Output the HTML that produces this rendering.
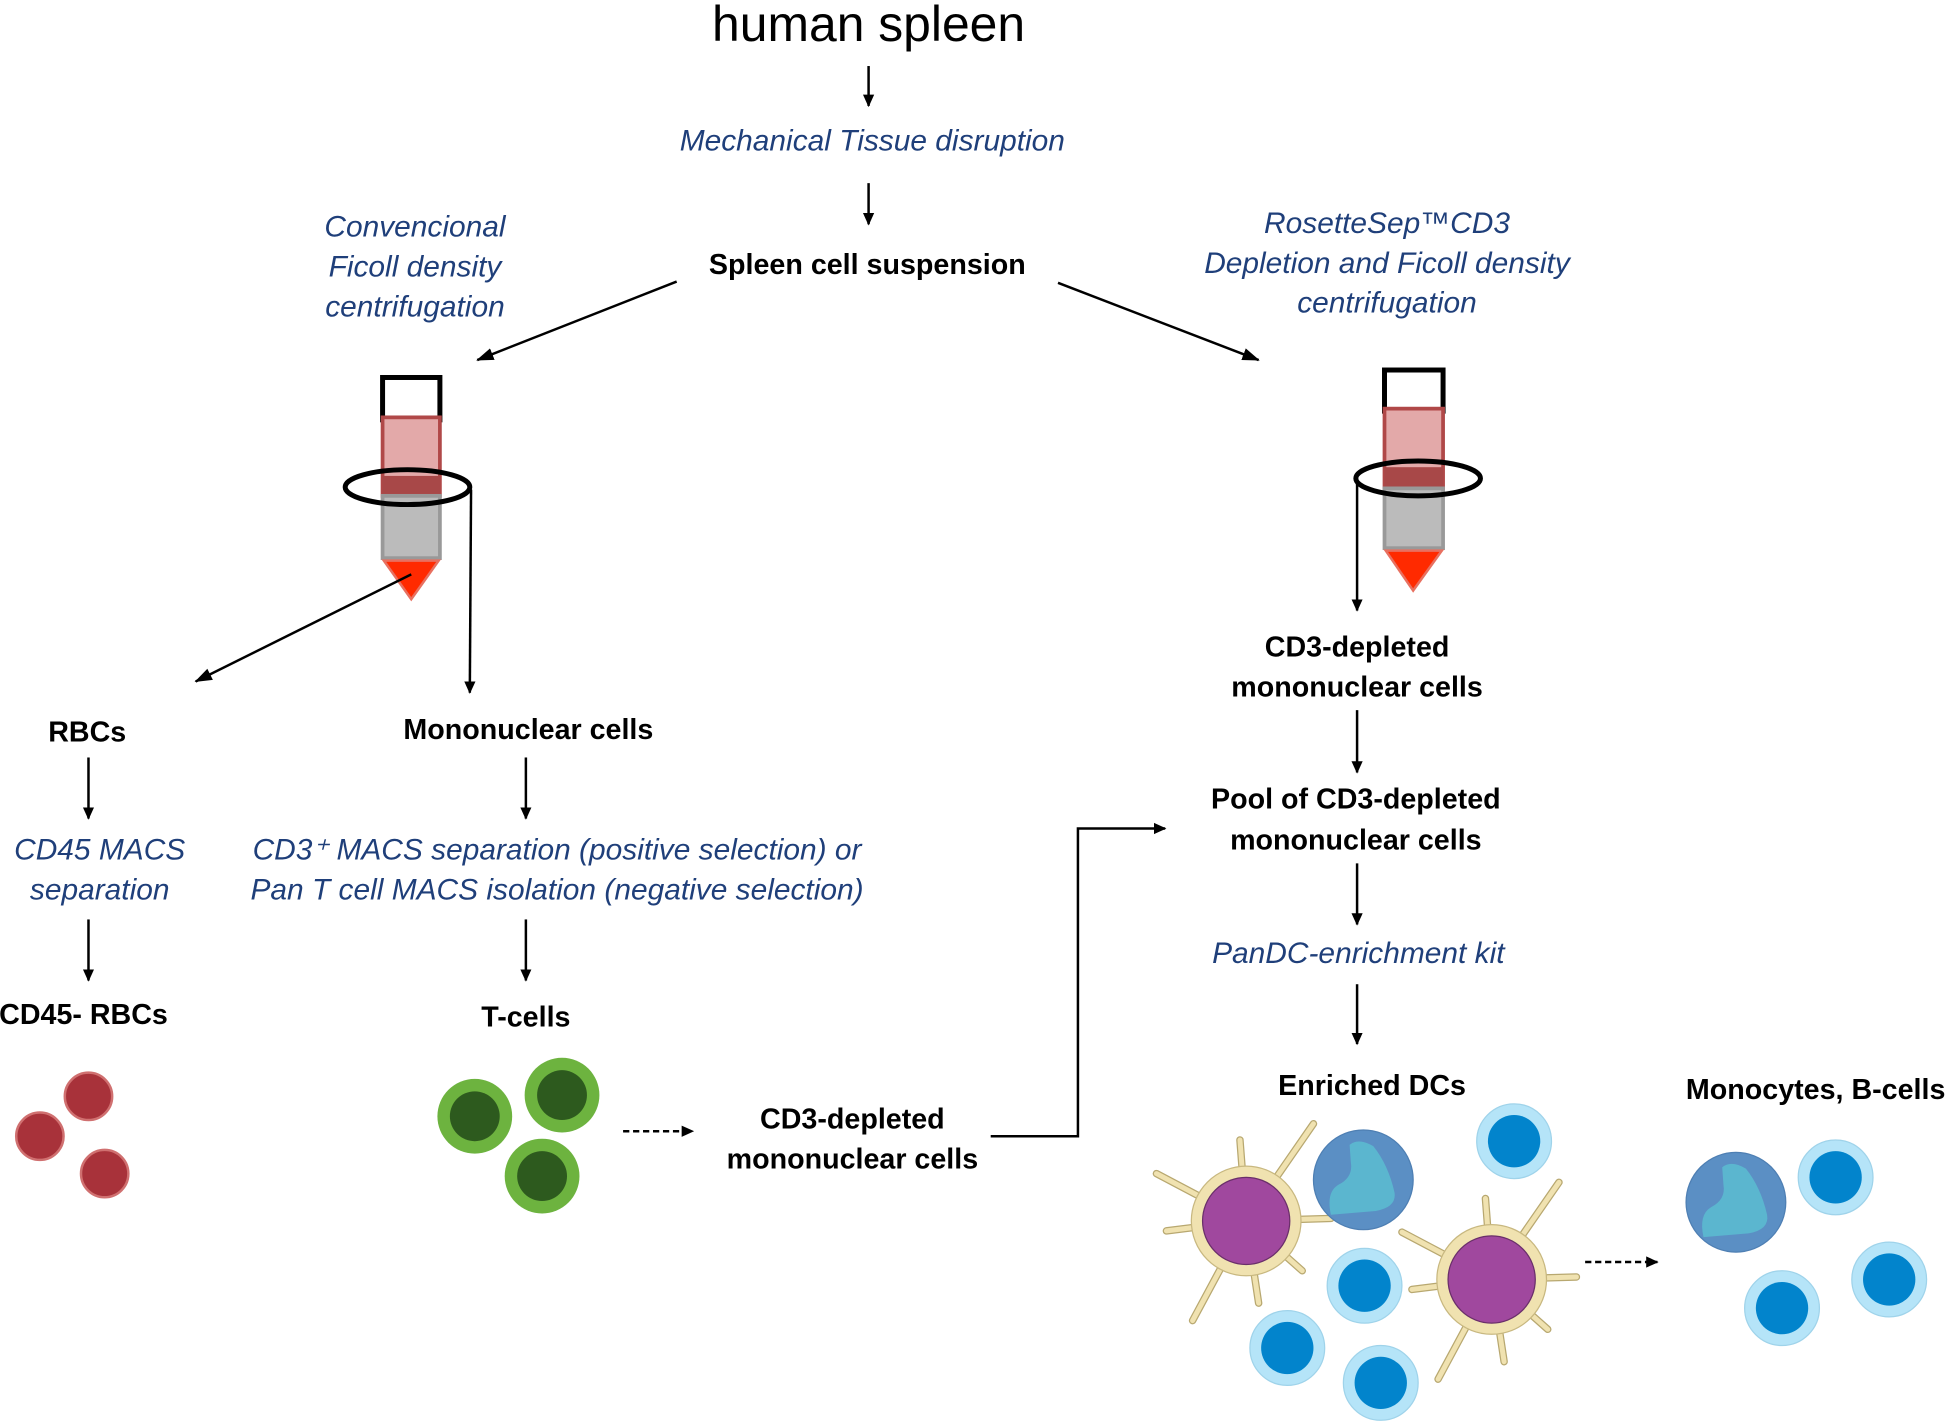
<!DOCTYPE html>
<html><head><meta charset="utf-8"><style>html,body{margin:0;padding:0;background:#fff}svg{display:block}</style></head>
<body>
<svg width="1954" height="1424" viewBox="0 0 1568 1143" preserveAspectRatio="none" xmlns="http://www.w3.org/2000/svg">
<defs>
<marker id="ah" markerWidth="10" markerHeight="10" refX="9" refY="5" orient="auto" markerUnits="userSpaceOnUse"><path d="M0,0.5 L10,5 L0,9.5 Z" fill="#000"/></marker>
<marker id="ah2" markerWidth="14" markerHeight="12" refX="13" refY="6" orient="auto" markerUnits="userSpaceOnUse"><path d="M0,1 L14,6 L0,11 Z" fill="#000"/></marker>
<g id="dc">
 <g stroke="#b8a870" stroke-width="6" stroke-linecap="round"><line x1="0" y1="0" x2="-72" y2="-38"/><line x1="0" y1="0" x2="-5" y2="-65"/><line x1="0" y1="0" x2="54" y2="-78"/><line x1="0" y1="0" x2="-64" y2="8"/><line x1="0" y1="0" x2="68" y2="-2"/><line x1="0" y1="0" x2="-43" y2="80"/><line x1="0" y1="0" x2="10" y2="66"/><line x1="0" y1="0" x2="45" y2="40"/></g>
 <g stroke="#f0e2b0" stroke-width="4" stroke-linecap="round"><line x1="0" y1="0" x2="-72" y2="-38"/><line x1="0" y1="0" x2="-5" y2="-65"/><line x1="0" y1="0" x2="54" y2="-78"/><line x1="0" y1="0" x2="-64" y2="8"/><line x1="0" y1="0" x2="68" y2="-2"/><line x1="0" y1="0" x2="-43" y2="80"/><line x1="0" y1="0" x2="10" y2="66"/><line x1="0" y1="0" x2="45" y2="40"/></g>
 <circle r="44" fill="#f0e2b0" stroke="#c8b880" stroke-width="1"/>
 <circle r="35" fill="#a0489e" stroke="#6a2f6a" stroke-width="1"/>
</g>
<g id="sc"><circle r="30" fill="#b5e4f8" stroke="#9fd3ea"/><circle r="21" fill="#0284cc"/></g>
<g id="mono"><circle r="40" fill="#5b8fc4" stroke="#4e7fb3"/><path d="M-11,-28 Q-4,-34 8,-27 Q20,-12 25,10 Q27,22 10,25 L-26,28 Q-30,10 -20,4 Q-8,-2 -10,-14 Z" fill="#5bb6cf"/></g>
<g id="tc"><circle r="30" fill="#6db33f"/><circle r="20" fill="#2d5a1e"/></g>
<g id="rbc"><circle r="19" fill="#a8323a" stroke="#d07070" stroke-width="2"/></g>
</defs>

<g font-family="Liberation Sans, sans-serif" text-anchor="middle">
<text x="697" y="33" font-size="40">human spleen</text>
<g fill="#1f3f7a" font-style="italic" font-size="24">
<text x="700" y="121">Mechanical Tissue disruption</text>
<text x="333" y="190">Convencional</text><text x="333" y="222">Ficoll density</text><text x="333" y="254">centrifugation</text>
<text x="1113" y="187">RosetteSep™CD3</text><text x="1113" y="219">Depletion and Ficoll density</text><text x="1113" y="251">centrifugation</text>
<text x="80" y="690">CD45 MACS</text><text x="80" y="722">separation</text>
<text x="447" y="690">CD3⁺ MACS separation (positive selection) or</text><text x="447" y="722">Pan T cell MACS isolation (negative selection)</text>
<text x="1090" y="773">PanDC-enrichment kit</text>
</g>
<g font-weight="bold" font-size="23">
<text x="696" y="220">Spleen cell suspension</text>
<text x="1089" y="527">CD3-depleted</text><text x="1089" y="559">mononuclear cells</text>
<text x="1088" y="649">Pool of CD3-depleted</text><text x="1088" y="682">mononuclear cells</text>
<text x="1101" y="879">Enriched DCs</text>
<text x="1457" y="882">Monocytes, B-cells</text>
<text x="70" y="595">RBCs</text><text x="424" y="593">Mononuclear cells</text>
<text x="67" y="822">CD45- RBCs</text><text x="422" y="824">T-cells</text>
<text x="684" y="906">CD3-depleted</text><text x="684" y="938">mononuclear cells</text>
</g>
</g>

<g stroke="#000" stroke-width="2" fill="none">
<line x1="697" y1="53" x2="697" y2="85" marker-end="url(#ah)"/>
<line x1="697" y1="147" x2="697" y2="180" marker-end="url(#ah)"/>
<line x1="543" y1="226" x2="383" y2="289" marker-end="url(#ah2)"/>
<line x1="849" y1="227" x2="1010" y2="289" marker-end="url(#ah2)"/>
<line x1="71" y1="608" x2="71" y2="657" marker-end="url(#ah)"/>
<line x1="71" y1="738" x2="71" y2="787" marker-end="url(#ah)"/>
<line x1="422" y1="608" x2="422" y2="657" marker-end="url(#ah)"/>
<line x1="422" y1="738" x2="422" y2="787" marker-end="url(#ah)"/>
<line x1="1089" y1="570" x2="1089" y2="620" marker-end="url(#ah)"/>
<line x1="1089" y1="693" x2="1089" y2="742" marker-end="url(#ah)"/>
<line x1="1089" y1="790" x2="1089" y2="838" marker-end="url(#ah)"/>
<line x1="500" y1="908" x2="556" y2="908" stroke-dasharray="5,3" marker-end="url(#ah)"/>
<line x1="1272" y1="1013" x2="1330" y2="1013" stroke-dasharray="5,3" marker-end="url(#ah)"/>
<polyline points="795,912 865,912 865,665 935,665" marker-end="url(#ah)"/>
</g>

<!-- left tube -->
<rect x="307" y="303" width="46" height="34" fill="#fff" stroke="#000" stroke-width="4"/>
<rect x="307" y="335" width="46" height="63" fill="#e3a9a9" stroke="#b04848" stroke-width="3"/>
<rect x="307" y="382" width="46" height="16" fill="#a84848"/>
<rect x="307" y="398" width="46" height="50" fill="#bbb" stroke="#999" stroke-width="3"/>
<polygon points="308,450 352,450 330,481" fill="#ff2a00" stroke="#e87060" stroke-width="2"/>
<ellipse cx="327" cy="391" rx="50" ry="14" fill="none" stroke="#000" stroke-width="4"/>
<line x1="330" y1="461" x2="157" y2="547" stroke="#000" stroke-width="2" marker-end="url(#ah2)"/>
<line x1="378" y1="393" x2="377" y2="556" stroke="#000" stroke-width="2" marker-end="url(#ah)"/>
<!-- right tube -->
<rect x="1111" y="297" width="47" height="33" fill="#fff" stroke="#000" stroke-width="4"/>
<rect x="1111" y="328" width="47" height="64" fill="#e3a9a9" stroke="#b04848" stroke-width="3"/>
<rect x="1111" y="375" width="47" height="16" fill="#a84848"/>
<rect x="1111" y="392" width="47" height="48" fill="#bbb" stroke="#999" stroke-width="3"/>
<polygon points="1112,442 1157,442 1134,474" fill="#ff2a00" stroke="#e87060" stroke-width="2"/>
<ellipse cx="1138" cy="384" rx="50" ry="14" fill="none" stroke="#000" stroke-width="4"/>
<line x1="1089" y1="384" x2="1089" y2="490" stroke="#000" stroke-width="2" marker-end="url(#ah)"/>

<!-- cells -->
<use href="#rbc" x="71" y="880"/><use href="#rbc" x="32" y="912"/><use href="#rbc" x="84" y="942"/>
<use href="#tc" x="381" y="896"/><use href="#tc" x="451" y="879"/><use href="#tc" x="435" y="944"/>
<use href="#dc" x="1000" y="980"/><use href="#dc" x="1197" y="1027"/>
<use href="#mono" x="1094" y="947"/><use href="#mono" x="1393" y="965"/>
<use href="#sc" x="1215" y="916"/><use href="#sc" x="1095" y="1032"/><use href="#sc" x="1033" y="1082"/><use href="#sc" x="1108" y="1110"/>
<use href="#sc" x="1473" y="945"/><use href="#sc" x="1430" y="1050"/><use href="#sc" x="1516" y="1027"/>
</svg>
</body></html>
